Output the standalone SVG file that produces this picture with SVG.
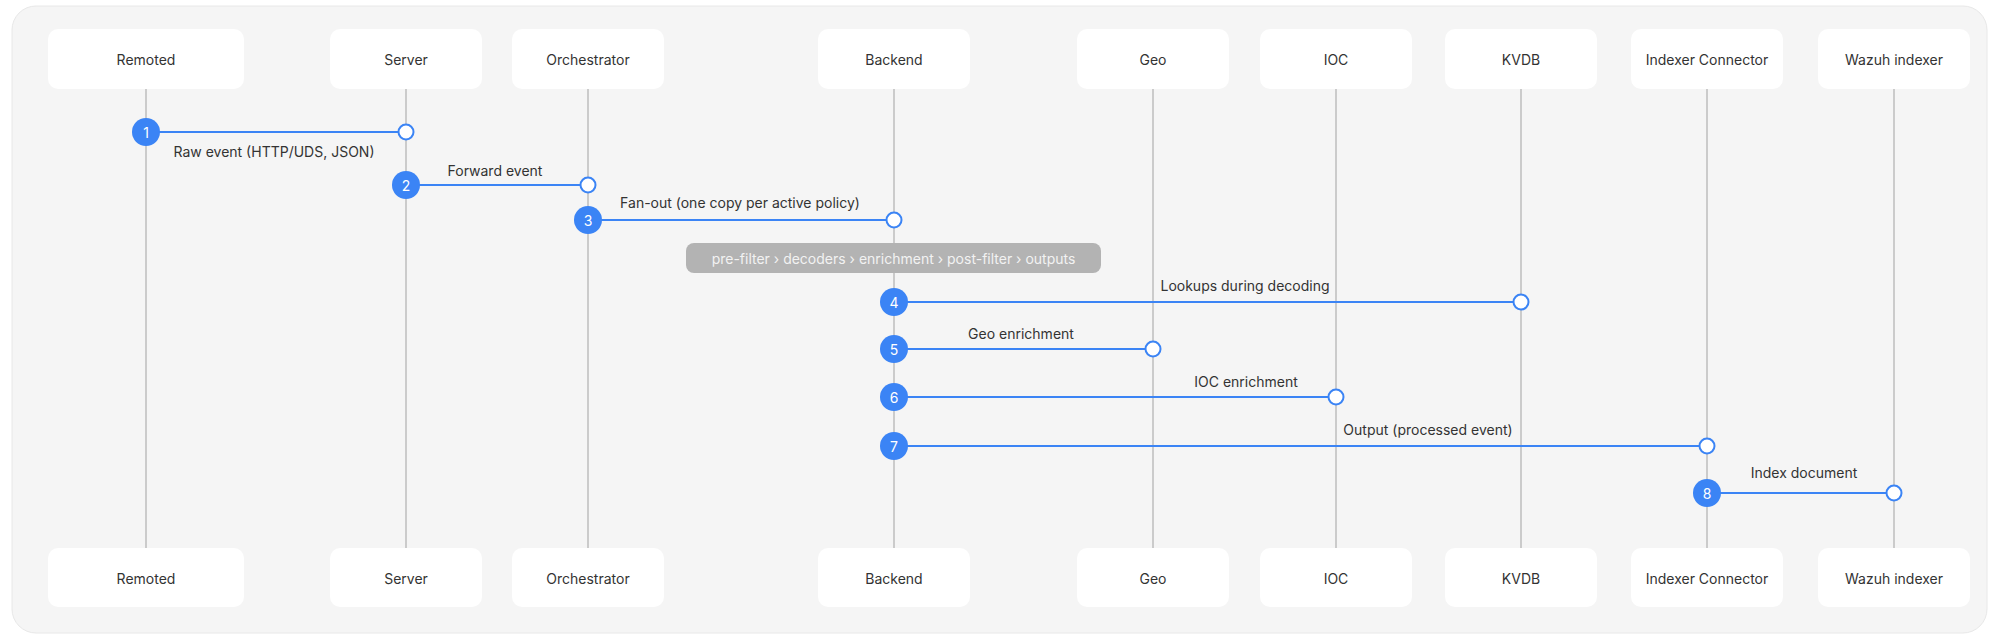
<svg xmlns="http://www.w3.org/2000/svg" width="1999" height="641" viewBox="0 0 1999 641">
  <style>
    text { font-family: Inter, "Noto Sans", "Liberation Sans", sans-serif; }
    .panel { fill: #f5f5f5; stroke: #e8e8e8; stroke-width: 1; }
    .box { fill: #ffffff; }
    .name { font-size: 14px; fill: #333333; text-anchor: middle; dominant-baseline: central; }
    .life { stroke: #bcbcbc; stroke-width: 1.5; }
    .msg { stroke: #3b84f5; stroke-width: 2; fill: none; }
    .lbl { font-size: 14px; fill: #333333; text-anchor: middle; dominant-baseline: central; }
    .num { fill: #3b84f5; }
    .numt { font-size: 14px; fill: #ffffff; text-anchor: middle; dominant-baseline: central; }
    .end { fill: #ffffff; stroke: #3b84f5; stroke-width: 2; }
    .pill { fill: #b3b3b3; }
    .pillt { font-size: 14px; fill: #f2f2f2; text-anchor: middle; dominant-baseline: central; }
  </style>

  <rect width="1999" height="641" fill="#ffffff"/>
  <rect class="panel" x="12" y="6" width="1975" height="627" rx="24"/>

  <!-- lifelines -->
  <g id="lifelines">
    <line class="life" x1="146" y1="89" x2="146" y2="548"/>
    <line class="life" x1="406" y1="89" x2="406" y2="548"/>
    <line class="life" x1="588" y1="89" x2="588" y2="548"/>
    <line class="life" x1="894" y1="89" x2="894" y2="548"/>
    <line class="life" x1="1153" y1="89" x2="1153" y2="548"/>
    <line class="life" x1="1336" y1="89" x2="1336" y2="548"/>
    <line class="life" x1="1521" y1="89" x2="1521" y2="548"/>
    <line class="life" x1="1707" y1="89" x2="1707" y2="548"/>
    <line class="life" x1="1894" y1="89" x2="1894" y2="548"/>
  </g>

  <!-- participants, top and bottom -->
  <g id="remoted">
    <rect class="box" x="48" y="29" width="196" height="60" rx="10"/>
    <text class="name" x="146" y="59">Remoted</text>
    <rect class="box" x="48" y="548" width="196" height="59" rx="10"/>
    <text class="name" x="146" y="578">Remoted</text>
  </g>
  <g id="server">
    <rect class="box" x="330" y="29" width="152" height="60" rx="10"/>
    <text class="name" x="406" y="59">Server</text>
    <rect class="box" x="330" y="548" width="152" height="59" rx="10"/>
    <text class="name" x="406" y="578">Server</text>
  </g>
  <g id="orchestrator">
    <rect class="box" x="512" y="29" width="152" height="60" rx="10"/>
    <text class="name" x="588" y="59">Orchestrator</text>
    <rect class="box" x="512" y="548" width="152" height="59" rx="10"/>
    <text class="name" x="588" y="578">Orchestrator</text>
  </g>
  <g id="backend">
    <rect class="box" x="818" y="29" width="152" height="60" rx="10"/>
    <text class="name" x="894" y="59">Backend</text>
    <rect class="box" x="818" y="548" width="152" height="59" rx="10"/>
    <text class="name" x="894" y="578">Backend</text>
  </g>
  <g id="geo">
    <rect class="box" x="1077" y="29" width="152" height="60" rx="10"/>
    <text class="name" x="1153" y="59">Geo</text>
    <rect class="box" x="1077" y="548" width="152" height="59" rx="10"/>
    <text class="name" x="1153" y="578">Geo</text>
  </g>
  <g id="ioc">
    <rect class="box" x="1260" y="29" width="152" height="60" rx="10"/>
    <text class="name" x="1336" y="59">IOC</text>
    <rect class="box" x="1260" y="548" width="152" height="59" rx="10"/>
    <text class="name" x="1336" y="578">IOC</text>
  </g>
  <g id="kvdb">
    <rect class="box" x="1445" y="29" width="152" height="60" rx="10"/>
    <text class="name" x="1521" y="59">KVDB</text>
    <rect class="box" x="1445" y="548" width="152" height="59" rx="10"/>
    <text class="name" x="1521" y="578">KVDB</text>
  </g>
  <g id="indexer-connector">
    <rect class="box" x="1631" y="29" width="152" height="60" rx="10"/>
    <text class="name" x="1707" y="59">Indexer Connector</text>
    <rect class="box" x="1631" y="548" width="152" height="59" rx="10"/>
    <text class="name" x="1707" y="578">Indexer Connector</text>
  </g>
  <g id="wazuh-indexer">
    <rect class="box" x="1818" y="29" width="152" height="60" rx="10"/>
    <text class="name" x="1894" y="59">Wazuh indexer</text>
    <rect class="box" x="1818" y="548" width="152" height="59" rx="10"/>
    <text class="name" x="1894" y="578">Wazuh indexer</text>
  </g>

  <!-- pipeline note over Backend -->
  <g id="pipeline-note">
    <rect class="pill" x="686" y="243" width="415" height="30" rx="8"/>
    <text class="pillt" x="893.5" y="258">pre-filter › decoders › enrichment › post-filter › outputs</text>
  </g>

  <!-- messages -->
  <g id="connectors">
    <line class="msg" x1="146" y1="132" x2="406" y2="132"/>
    <line class="msg" x1="406" y1="185" x2="588" y2="185"/>
    <line class="msg" x1="588" y1="220" x2="894" y2="220"/>
    <line class="msg" x1="894" y1="302" x2="1521" y2="302"/>
    <line class="msg" x1="894" y1="349" x2="1153" y2="349"/>
    <line class="msg" x1="894" y1="397" x2="1336" y2="397"/>
    <line class="msg" x1="894" y1="446" x2="1707" y2="446"/>
    <line class="msg" x1="1707" y1="493" x2="1894" y2="493"/>

    <circle class="end" cx="406" cy="132" r="7.5"/>
    <circle class="end" cx="588" cy="185" r="7.5"/>
    <circle class="end" cx="894" cy="220" r="7.5"/>
    <circle class="end" cx="1521" cy="302" r="7.5"/>
    <circle class="end" cx="1153" cy="349" r="7.5"/>
    <circle class="end" cx="1336" cy="397" r="7.5"/>
    <circle class="end" cx="1707" cy="446" r="7.5"/>
    <circle class="end" cx="1894" cy="493" r="7.5"/>

    <circle class="num" cx="146" cy="132" r="14"/>
    <text class="numt" x="146" y="132">1</text>
    <circle class="num" cx="406" cy="185" r="14"/>
    <text class="numt" x="406" y="185">2</text>
    <circle class="num" cx="588" cy="220" r="14"/>
    <text class="numt" x="588" y="220">3</text>
    <circle class="num" cx="894" cy="302" r="14"/>
    <text class="numt" x="894" y="302">4</text>
    <circle class="num" cx="894" cy="349" r="14"/>
    <text class="numt" x="894" y="349">5</text>
    <circle class="num" cx="894" cy="397" r="14"/>
    <text class="numt" x="894" y="397">6</text>
    <circle class="num" cx="894" cy="446" r="14"/>
    <text class="numt" x="894" y="446">7</text>
    <circle class="num" cx="1707" cy="493" r="14"/>
    <text class="numt" x="1707" y="493">8</text>

    <text class="lbl" x="274" y="151">Raw event (HTTP/UDS, JSON)</text>
    <text class="lbl" x="495" y="170">Forward event</text>
    <text class="lbl" x="740" y="202">Fan-out (one copy per active policy)</text>
    <text class="lbl" x="1245" y="285">Lookups during decoding</text>
    <text class="lbl" x="1021" y="333">Geo enrichment</text>
    <text class="lbl" x="1246" y="381">IOC enrichment</text>
    <text class="lbl" x="1428" y="429">Output (processed event)</text>
    <text class="lbl" x="1804" y="472">Index document</text>
  </g>
</svg>
